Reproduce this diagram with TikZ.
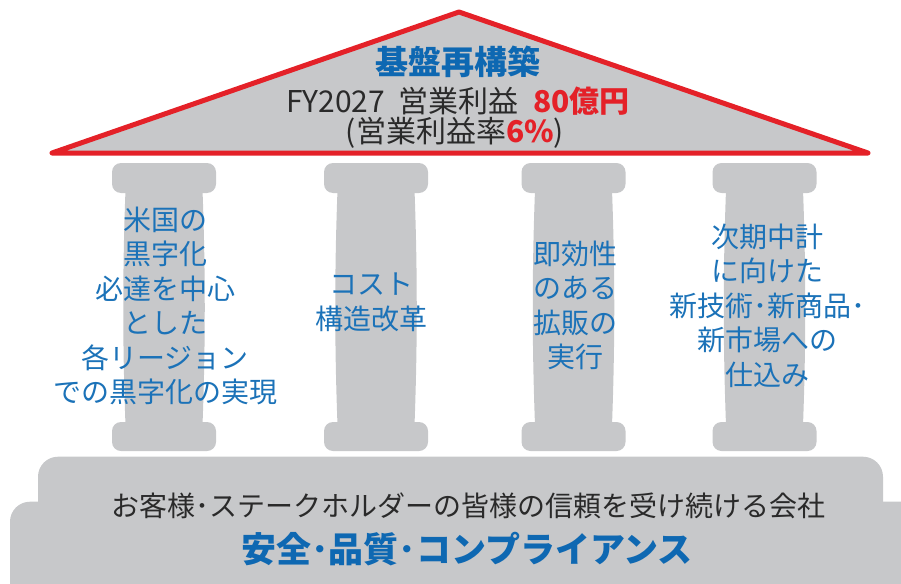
\documentclass[tikz,border=0pt]{standalone}
\usepackage{fontspec}
\setmainfont{Noto Sans CJK JP}
\definecolor{stone}{HTML}{C7C8CA}
\definecolor{roofred}{HTML}{E42128}
\definecolor{pillarblue}{HTML}{1B72B8}
\definecolor{headblue}{HTML}{0E68B2}
\definecolor{darktext}{HTML}{2A2A2A}
\tikzset{
  pillar/.pic={
    \fill[stone,rounded corners=9] (-52,163) rectangle (52,193);
    \fill[stone] (-38.5,190) .. controls (-41.5,270) and (-41.5,345) .. (-38.5,425)
       -- (38.5,425) .. controls (41.5,345) and (41.5,270) .. (38.5,190) -- cycle;
    \fill[stone,rounded corners=9] (-52,422) rectangle (52,451);
  },
  coltext/.style={text=pillarblue,align=center,font=\fontsize{28}{34.5}\selectfont,inner sep=0pt},
  rooftext/.style={text=darktext,align=center,font=\fontsize{30}{32}\selectfont,inner sep=0pt}
}
\begin{document}
\begin{tikzpicture}[x=1pt,y=-1pt]
\useasboundingbox (0,0) rectangle (901,583);
% roof
\filldraw[fill=stone,draw=roofred,line width=5pt,line join=round,line cap=round]
  (459,12) -- (868,153) -- (52,153) -- cycle;
% pillars
\pic at (164,0) {pillar};
\pic at (376,0) {pillar};
\pic at (573.5,0) {pillar};
\pic at (764.5,0) {pillar};
% base
\fill[stone,rounded corners=20] (38,456.7) rectangle (883,620);
\fill[stone,rounded corners=20] (10,501.7) rectangle (940,620);
% roof texts
\node[inner sep=0pt,text=headblue,font=\fontsize{33}{36}\selectfont\bfseries] (title) at (458,62) {基盤再構築};
\node[rooftext] (profit) at (458,101) {FY2027\hspace{13pt}営業利益\hspace{15pt}{\color{roofred}\bfseries 80億円}};
\node[rooftext] (margin) at (455,133) {(営業利益率{\color{roofred}\bfseries 6\%})};
% pillar texts
\node[coltext] (p1) at (165,306) {米国の\\黒字化\\必達を中心\\とした\\各リージョン\\での黒字化の実現};
\node[coltext] (p2) at (371,302.5) {コスト\\構造改革};
\node[coltext] (p3) at (575,305.5) {即効性\\のある\\拡販の\\実行};
\node[coltext] (p4) at (767,305.5) {次期中計\\に向けた\\新技術･新商品･\\新市場への\\仕込み};
% base texts
\node[inner sep=0pt,text=darktext,font=\fontsize{28}{30}\selectfont] (trust) at (468,506) {お客様･ステークホルダーの皆様の信頼を受け続ける会社};
\node[inner sep=0pt,text=headblue,font=\fontsize{35}{38}\selectfont\bfseries] (safety) at (467,549) {安全･品質･コンプライアンス};
\end{tikzpicture}
\end{document}
